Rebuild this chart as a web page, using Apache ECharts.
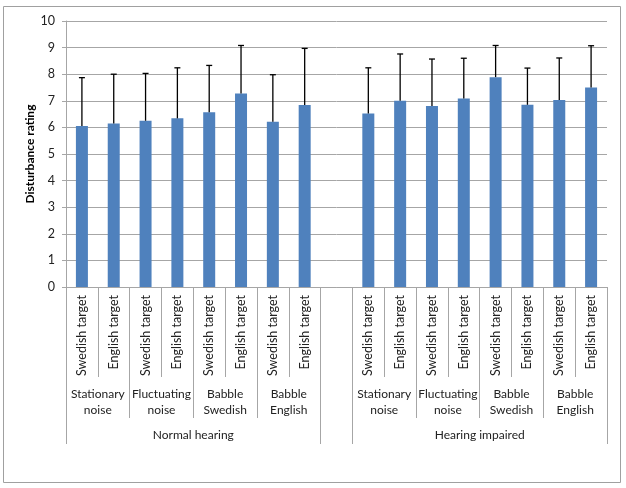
<!DOCTYPE html>
<html lang="en">
<head>
  <meta charset="UTF-8">
  <title>Disturbance rating</title>
  <script src="https://cdn.jsdelivr.net/npm/echarts@6/dist/echarts.min.js"></script>
  <style>body{margin:0;background:#fff}</style>
</head>
<body>
<div id="main" style="width:626px;height:488px;"></div>
<script>
  const targets = ['Swedish target', 'English target'];
  const noiseTypes = ['Stationary\nnoise', 'Fluctuating\nnoise', 'Babble\nSwedish', 'Babble\nEnglish'];
  const hearingGroups = ['Normal hearing', 'Hearing impaired'];

  // mean and SD per condition, order: noise type x target
  const normalMean = [6.05, 6.15, 6.25, 6.34, 6.57, 7.27, 6.21, 6.84];
  const normalSd = [1.82, 1.85, 1.78, 1.90, 1.76, 1.81, 1.77, 2.13];
  const impairedMean = [6.52, 7.00, 6.80, 7.09, 7.89, 6.85, 7.03, 7.50];
  const impairedSd = [1.72, 1.76, 1.77, 1.51, 1.19, 1.38, 1.58, 1.57];

  const yTicks = [0, 1, 2, 3, 4, 5, 6, 7, 8, 9, 10];

  const groupMeans = [normalMean, impairedMean];
  const groupSds = [normalSd, impairedSd];

  // build slots (one empty slot between hearing groups) and the label levels
  const slotLabels = [], barValues = [], errorData = [];
  const midLabels = new Array(35).fill(''), topLabels = new Array(35).fill('');
  const midBounds = [], topBounds = [];
  let slot = 0;
  hearingGroups.forEach((hg, g) => {
    if (g > 0) { slotLabels.push(' '); barValues.push('-'); slot++; }
    const start = slot;
    topBounds.push(2 * start);
    noiseTypes.forEach((nt, n) => {
      midBounds.push(2 * slot);
      midLabels[2 * slot + 2] = nt;
      targets.forEach((t, k) => {
        const i = n * 2 + k;
        slotLabels.push(t);
        barValues.push(groupMeans[g][i]);
        errorData.push([slot, groupMeans[g][i], groupSds[g][i]]);
        slot++;
      });
    });
    midBounds.push(2 * slot);
    topBounds.push(2 * slot);
    topLabels[start + slot] = hg;
  });

  const gray = '#a6a6a6';
  const font = 'Lato';
  const fs = 12;
  const chart = echarts.init(document.getElementById('main'));
  chart.setOption({
    animation: false,
    textStyle: { fontFamily: font },
    graphic: [{
      type: 'rect',
      shape: { x: 3.5, y: 6.5, width: 617, height: 476 },
      style: { fill: 'none', stroke: '#a0a0a0', lineWidth: 1 }
    }],
    grid: { left: 66, right: 19, top: 21, bottom: 201 },
    xAxis: [{
      type: 'category',
      position: 'bottom',
      data: slotLabels,
      axisLine: { show: true, lineStyle: { color: gray } },
      axisTick: { show: true, interval: 0, length: 90, lineStyle: { color: gray } },
      axisLabel: { interval: 0, rotate: 90, margin: 8, fontSize: fs + 0.5, color: '#222', fontFamily: font },
      splitLine: { show: false }
    }, {
      type: 'category',
      position: 'bottom',
      boundaryGap: false,
      data: midLabels,
      axisLine: { show: false },
      axisTick: { show: true, length: 131, interval: (i) => midBounds.includes(i), lineStyle: { color: gray } },
      axisLabel: { interval: 0, margin: 99, fontSize: fs, lineHeight: 16, color: '#222', fontFamily: font },
      splitLine: { show: false }
    }, {
      type: 'category',
      position: 'bottom',
      boundaryGap: false,
      data: topLabels,
      axisLine: { show: false },
      axisTick: { show: true, length: 157, interval: (i) => topBounds.includes(i), lineStyle: { color: gray } },
      axisLabel: { interval: 0, margin: 142, fontSize: fs, color: '#222', fontFamily: font },
      splitLine: { show: false }
    }],
    yAxis: {
      type: 'value',
      min: yTicks[0],
      max: yTicks[yTicks.length - 1],
      interval: 1,
      name: 'Disturbance rating',
      nameLocation: 'middle',
      nameGap: 30,
      nameMoveOverlap: false,
      nameTextStyle: { fontWeight: 'bold', fontSize: fs, color: '#000', fontFamily: font },
      axisLine: { show: true, lineStyle: { color: gray } },
      axisTick: { show: true, length: 4, lineStyle: { color: gray } },
      axisLabel: { fontSize: fs + 0.5, color: '#222', margin: 11, fontFamily: font },
      splitLine: { show: true, lineStyle: { color: gray, width: 1 } }
    },
    series: [{
      type: 'bar',
      xAxisIndex: 0,
      data: barValues,
      barWidth: 12,
      itemStyle: { color: '#4f81bd' }
    }, {
      type: 'custom',
      xAxisIndex: 0,
      data: errorData,
      encode: { x: 0, y: [1, 2] },
      z: 3,
      renderItem: function (params, api) {
        const x = api.value(0), m = api.value(1), sd = api.value(2);
        const lo = api.coord([x, m]);
        const hi = api.coord([x, m + sd]);
        const style = { stroke: '#000', lineWidth: 1.3 };
        return {
          type: 'group',
          children: [
            { type: 'line', shape: { x1: lo[0], y1: lo[1], x2: hi[0], y2: hi[1] }, style: style },
            { type: 'line', shape: { x1: hi[0] - 3, y1: hi[1], x2: hi[0] + 3, y2: hi[1] }, style: style }
          ]
        };
      }
    }]
  });
</script>
</body>
</html>
